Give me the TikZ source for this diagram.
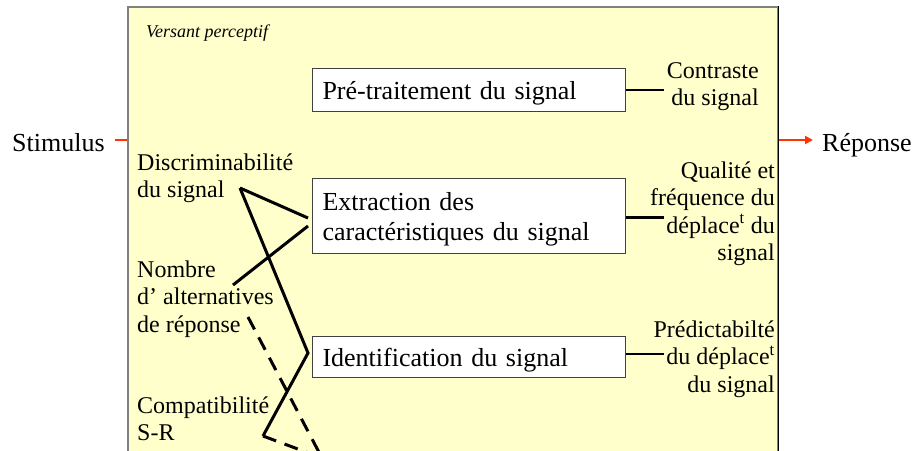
\documentclass[tikz,border=0pt]{standalone}
\usepackage{fontspec}
\setmainfont{Liberation Serif}
\usetikzlibrary{arrows.meta}
\definecolor{panelfill}{HTML}{FFFFCC}
\definecolor{flowred}{HTML}{FF3300}

\begin{document}
\begin{tikzpicture}[x=1pt,y=-1pt,
  stagebox/.style={draw=black!75, line width=1pt, fill=white, anchor=north west,
    minimum width=313pt, text width=293pt, inner xsep=10pt, align=left,
    font=\fontsize{26}{30}\selectfont},
  sidetext/.style={inner sep=0pt, font=\fontsize{24}{27.5}\selectfont},
  endtext/.style={inner sep=0pt, font=\fontsize{26}{30}\selectfont, anchor=base west},
  link/.style={line width=3pt, black},
  stub/.style={line width=2.8pt, black},
  dashlink/.style={line width=3pt, black, dash pattern=on 14pt off 9pt},
  flow/.style={line width=2.5pt, flowred}
]
\clip (0,0) rectangle (915,450);

% perceptual panel
\node[fill=panelfill, draw=black!50, line width=1.5pt, anchor=north west,
      minimum width=650pt, minimum height=470pt, inner sep=0pt] (panel) at (127,6) {};
\draw[black, line width=1.2pt] (panel.north east) -- (panel.south east);

\node[anchor=base west, inner sep=0pt, font=\fontsize{18}{20}\selectfont\itshape]
  (title) at (146,37) {Versant perceptif};

% input and output
\node[endtext] (stim) at (12,151) {Stimulus};
\node[endtext] (resp) at (822,151) {Réponse};
\coordinate (stimout) at (115,140);
\coordinate (respin) at (813,140);
\draw[flow] (stimout) -- (stimout -| panel.west);
\draw[flow, -{Triangle[length=8pt,width=8pt]}] (respin -| panel.east) -- (respin);

% processing stages
\node[stagebox, minimum height=43pt, text height=23.5pt, text depth=4.5pt]
  (pre) at (312,68) {Pré-traitement du signal};
\node[stagebox, minimum height=75pt, text height=24pt, text depth=36pt]
  (ext) at (312,178) {Extraction des\\caractéristiques du signal};
\node[stagebox, minimum height=41pt, text height=23.5pt, text depth=4.5pt]
  (ident) at (312,336) {Identification du signal};

% factors acting on each stage (right)
\node[sidetext, anchor=base east] (contr) at (759,78)
  {\begin{tabular}[t]{@{}r@{}}Contraste\\du signal\end{tabular}};
\node[sidetext, anchor=base east] (qual) at (775,178)
  {\begin{tabular}[t]{@{}r@{}}Qualité et\\fréquence du\\déplace\textsuperscript{t} du\\signal\end{tabular}};
\node[sidetext, anchor=base east] (pred) at (775,337)
  {\begin{tabular}[t]{@{}r@{}}Prédictabilté\\du déplace\textsuperscript{t}\\du signal\end{tabular}};

\draw[stub] (pre.east) -- +(38,0);
\draw[stub] (ext.east) ++(0,1.5) -- +(38,0);
\draw[stub] (ident.east) ++(0,-3) -- +(38,0);

% factors acting on each stage (left)
\node[sidetext, anchor=base west] (discr) at (137,170)
  {\begin{tabular}[t]{@{}l@{}}Discriminabilité\\du signal\end{tabular}};
\node[sidetext, anchor=base west] (nalt) at (137,277)
  {\begin{tabular}[t]{@{}l@{}}Nombre\\d’ alternatives\\de réponse\end{tabular}};
\node[sidetext, anchor=base west] (compat) at (137,413)
  {\begin{tabular}[t]{@{}l@{}}Compatibilité\\S-R\end{tabular}};

% influence lines
\coordinate (dapex) at (240,188);
\coordinate (extA) at (308,218);
\coordinate (extB) at (308,226);
\coordinate (nstart) at (233,285);
\coordinate (ndash) at (248,317);
\coordinate (identA) at (308,353);
\coordinate (capex) at (263,436);
\coordinate (below) at (322,458);

\draw[link] (dapex) -- (extA);
\draw[link, line join=miter] (dapex) -- (identA) -- (capex);
\draw[link] (nstart) -- (extB);
\draw[dashlink] (ndash) -- (below);
\draw[dashlink] (capex) -- (below);
\end{tikzpicture}
\end{document}
